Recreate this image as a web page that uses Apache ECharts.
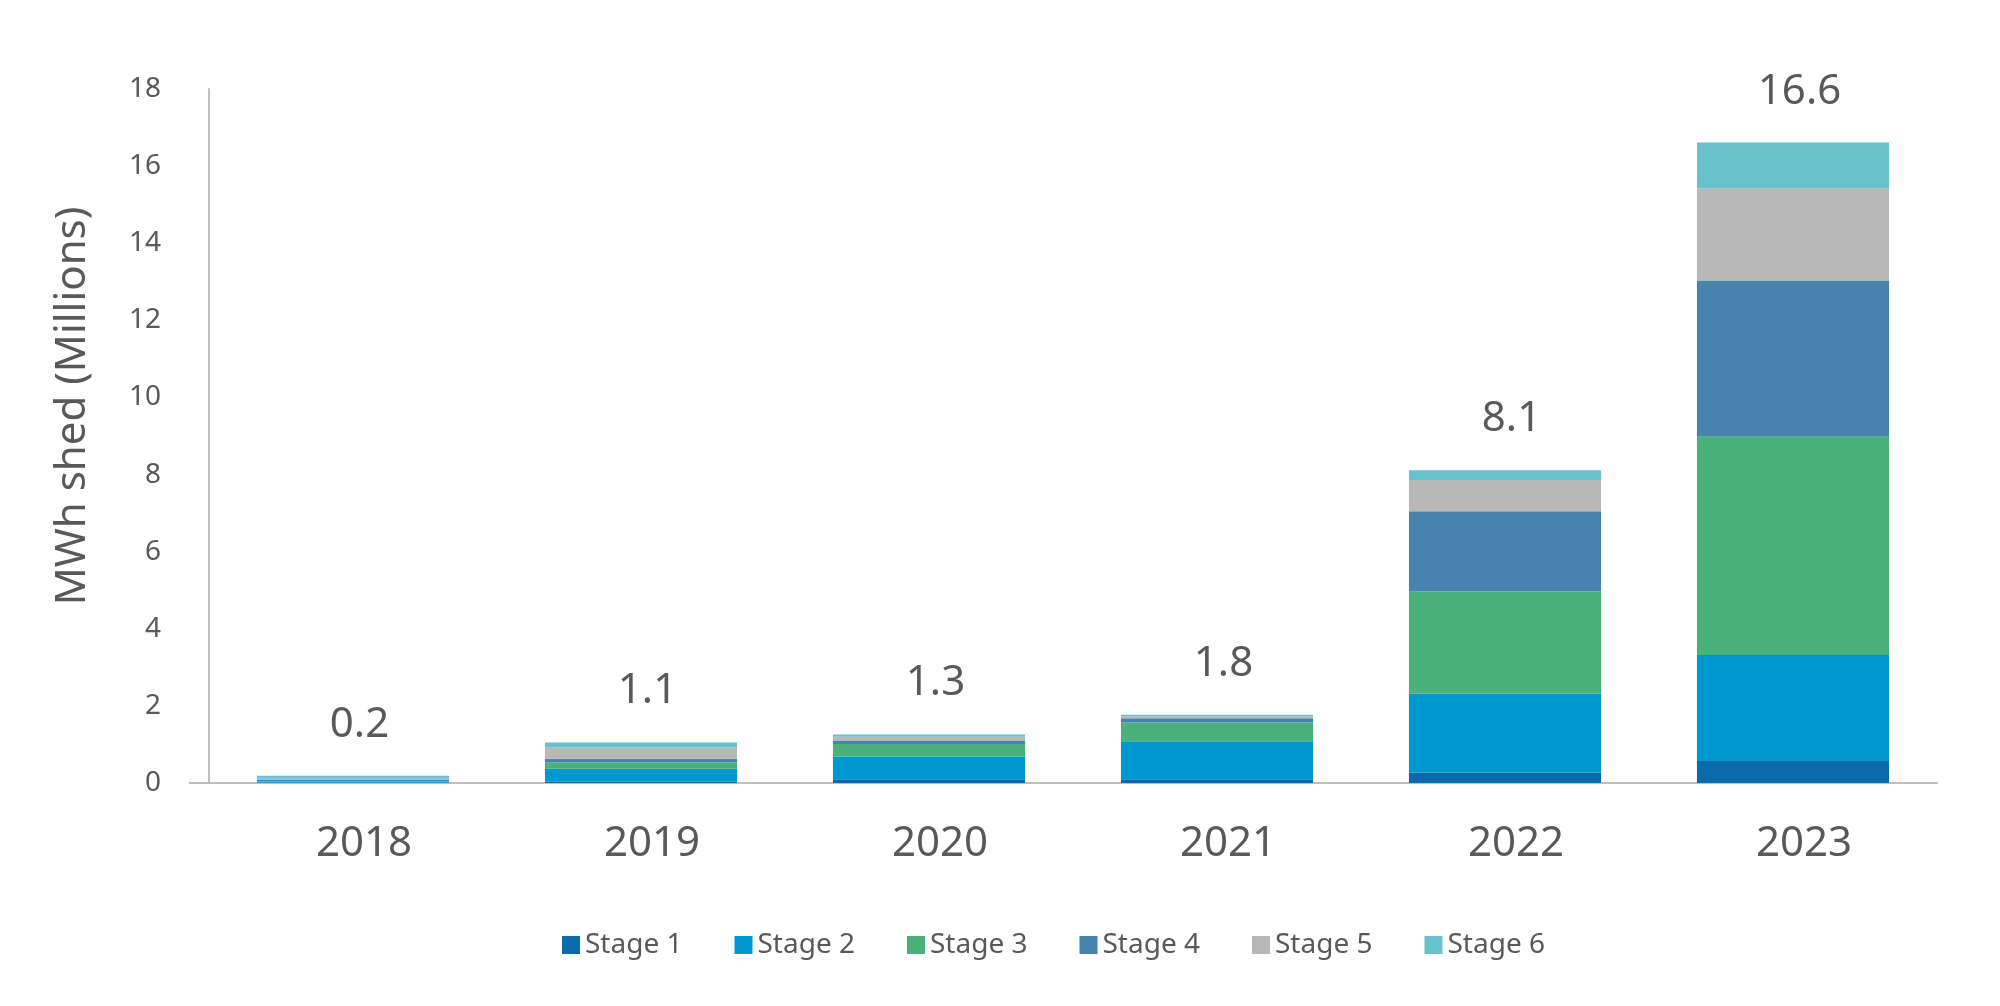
<!DOCTYPE html>
<html>
<head>
<meta charset="utf-8">
<script src="https://cdn.jsdelivr.net/npm/echarts@6/dist/echarts.min.js"></script>
<style>
html,body{margin:0;padding:0;background:#fff;}
#chart{width:2000px;height:1006px;}
</style>
</head>
<body>
<div id="chart"></div>
<script>
const categories = ['2018', '2019', '2020', '2021', '2022', '2023'];
const stage1 = [0.01, 0.03, 0.10, 0.10, 0.27, 0.57];
const stage2 = [0.02, 0.34, 0.59, 0.98, 2.05, 2.75];
const stage3 = [0.01, 0.16, 0.32, 0.49, 2.65, 5.66];
const stage4 = [0.05, 0.10, 0.08, 0.11, 2.08, 4.04];
const stage5 = [0.02, 0.29, 0.11, 0.05, 0.81, 2.40];
const stage6 = [0.08, 0.13, 0.06, 0.04, 0.25, 1.19];
const totals = [0.2, 1.1, 1.3, 1.8, 8.1, 16.6];
const seriesNames = ['Stage 1', 'Stage 2', 'Stage 3', 'Stage 4', 'Stage 5', 'Stage 6'];
const seriesData = [stage1, stage2, stage3, stage4, stage5, stage6];
const colors = ['#0a6aab', '#0099cf', '#4ab17a', '#4784ad', '#b8b8b8', '#68c2cb'];

const FONT = 'Noto Sans';
const TXT = '#595959';
const AXIS = '#bfbfbf';

const chart = echarts.init(document.getElementById('chart'), null, {renderer: 'canvas'});

const series = seriesData.map((d, i) => {
  const s = {
    name: seriesNames[i],
    type: 'bar',
    stack: 'total',
    data: d,
    barWidth: '66.7%',
    itemStyle: {color: colors[i]},
    emphasis: {disabled: true}
  };
  if (i === seriesData.length - 1) {
    s.label = {
      show: true,
      position: 'top',
      distance: 30,
      fontFamily: FONT,
      fontSize: 42,
      color: TXT,
      padding: [0, 0, 0, 13],
      formatter: p => totals[p.dataIndex].toFixed(1)
    };
  }
  return s;
});

chart.setOption({
  animation: false,
  color: colors,
  grid: {left: 209, right: 63, top: 89, bottom: 223, containLabel: false, outerBoundsMode: 'none'},
  legend: {
    data: seriesNames,
    left: 557,
    top: 926,
    icon: 'rect',
    itemWidth: 18,
    itemHeight: 18,
    itemGap: 52,
    textStyle: {fontFamily: FONT, fontSize: 28, color: TXT}
  },
  xAxis: {
    type: 'category',
    data: categories,
    axisLine: {show: true, lineStyle: {color: AXIS, width: 2}},
    axisTick: {show: false},
    axisLabel: {fontFamily: FONT, fontSize: 42, color: TXT, margin: 40, padding: [0, 0, 0, 22]}
  },
  yAxis: {
    type: 'value',
    min: 0,
    max: 18,
    interval: 2,
    name: 'MWh shed (Millions)',
    nameLocation: 'middle',
    nameGap: 115,
    nameTextStyle: {fontFamily: FONT, fontSize: 42, color: TXT, padding: [0, 0, 0, 60]},
    axisLine: {show: true, lineStyle: {color: AXIS, width: 2}},
    axisTick: {show: true, customValues: [0], length: 20, lineStyle: {color: AXIS, width: 2}},
    splitLine: {show: false},
    axisLabel: {fontFamily: FONT, fontSize: 28, color: TXT, margin: 48}
  },
  series: series
});
</script>
</body>
</html>
